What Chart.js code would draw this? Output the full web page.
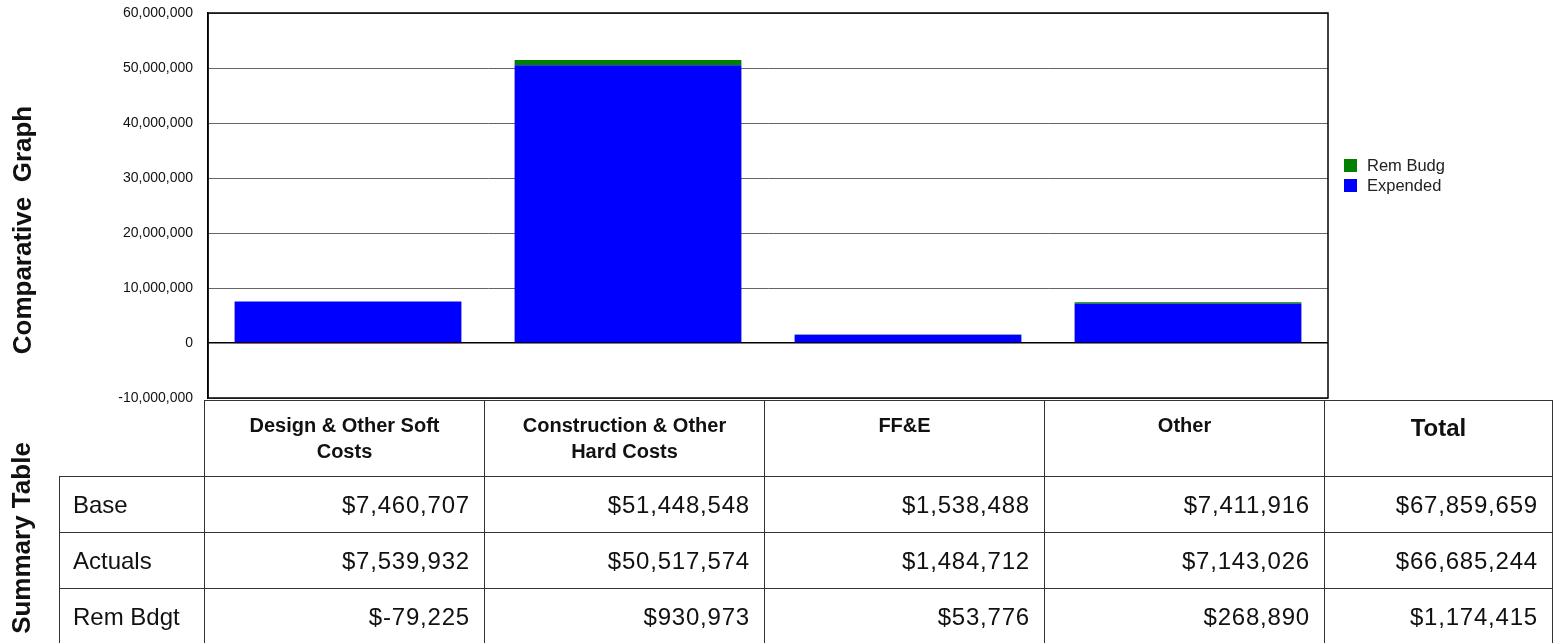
<!DOCTYPE html>
<html>
<head>
<meta charset="utf-8">
<script src="https://cdn.jsdelivr.net/npm/chart.js@4.4.1/dist/chart.umd.min.js"></script>
<style>
  html, body { margin: 0; padding: 0; background: #fff; }
  body { width: 1554px; height: 643px; position: relative; overflow: hidden;
         font-family: "Liberation Sans", Arial, Helvetica, sans-serif; color: #111; }
  #chartBox { position: absolute; left: 0; top: 0; width: 1554px; height: 420px; }
  .side { position: absolute; font-weight: bold; font-size: 26px; white-space: pre;
          transform: translate(-50%, -50%) rotate(-90deg); }
  #legend { position: absolute; left: 1344px; top: 157px; font-size: 16.5px; color: #222; }
  #legend div { height: 20px; line-height: 17px; white-space: nowrap; }
  #legend span.box { display: inline-block; width: 13px; height: 13px; vertical-align: -1px; margin-right: 10px; }
  #summary { position: absolute; left: 59px; top: 400px; border-collapse: collapse; }
  #summary td, #summary th { border: 1px solid #333; padding: 0; box-sizing: border-box; }
  #summary tr.head { height: 76px; }
  #summary tr.body { height: 56px; }
  #summary th { vertical-align: top; padding-top: 11px; font-size: 20px;
                line-height: 26px; font-weight: bold; text-align: center; }
  #summary th.empty { border: none; border-bottom: 1px solid #333; }
  #summary th.total { font-size: 24px; padding-top: 14px; }
  #summary td { font-size: 24px; vertical-align: middle; }
  #summary td.lbl { padding-left: 13px; text-align: left; }
  #summary td.num { padding-right: 14px; text-align: right; letter-spacing: 0.8px; }
</style>
</head>
<body>
<div id="chartBox"><canvas id="myChart"></canvas></div>
<div class="side" style="left:22px; top:230px;">Comparative  Graph</div>
<div class="side" style="left:21px; top:538px;">Summary Table</div>
<div id="legend"></div>
<table id="summary"></table>

<script>
// categories and values
const categories = ['Design & Other Soft Costs', 'Construction & Other Hard Costs', 'FF&E', 'Other'];
const headerLines = [['Design & Other Soft', 'Costs'], ['Construction & Other', 'Hard Costs'], ['FF&E'], ['Other']];
const base = [7460707, 51448548, 1538488, 7411916];
const actuals = [7539932, 50517574, 1484712, 7143026];
const remBudget = [-79225, 930973, 53776, 268890];
const totals = [67859659, 66685244, 1174415]; // Base, Actuals, Rem Bdgt
const rowLabels = ['Base', 'Actuals', 'Rem Bdgt'];
const yTicks = [-10000000, 0, 10000000, 20000000, 30000000, 40000000, 50000000, 60000000];

const BLUE = '#0000ff';
const GREEN = '#008000';

const money = v => '$' + v.toLocaleString('en-US');

// frame around the plot area
const frame = {
    id: 'frame',
    afterDraw(chart) {
        const a = chart.chartArea, c = chart.ctx;
        c.save();
        c.strokeStyle = '#000';
        c.lineWidth = 1.5;
        c.strokeRect(a.left, a.top, a.right - a.left, a.bottom - a.top);
        c.restore();
    }
};

const data = {
    labels: categories,
    datasets: [{
        label: 'Expended',
        data: actuals,
        backgroundColor: BLUE,
        borderWidth: 0
    }, {
        label: 'Rem Budg',
        data: remBudget,
        backgroundColor: ctx => (ctx.raw < 0 ? '#ff0000' : GREEN),
        borderWidth: 0
    }]
};

const options = {
    responsive: true,
    maintainAspectRatio: false,
    animation: false,
    layout: { padding: { left: 0, top: 13, right: 226, bottom: 22 } },
    datasets: { bar: { barPercentage: 0.81, categoryPercentage: 1 } },
    plugins: { legend: { display: false }, tooltip: { enabled: false } },
    scales: {
        x: { stacked: true, display: false },
        y: {
            stacked: true,
            min: -10000000,
            max: 60000000,
            afterBuildTicks: s => { s.ticks = yTicks.map(v => ({ value: v })); },
            afterFit: s => { s.width = 208; s.paddingTop = 0; s.paddingBottom = 0; },
            ticks: {
                padding: 15,
                color: '#111',
                font: { family: '"Liberation Sans", Arial, sans-serif', size: 14 },
                callback: v => v.toLocaleString('en-US')
            },
            grid: {
                drawTicks: false,
                color: ctx => (ctx.tick && ctx.tick.value === 0 ? '#000' : '#666'),
                lineWidth: ctx => (ctx.tick && ctx.tick.value === 0 ? 1.5 : 1)
            },
            border: { display: true, color: '#000', width: 1.5 }
        }
    }
};

const ctx = document.getElementById('myChart').getContext('2d');
const myChart = new Chart(ctx, { type: 'bar', data: data, options: options, plugins: [frame] });

// legend (reverse order like the stack)
const legendItems = [['Rem Budg', GREEN], ['Expended', BLUE]];
document.getElementById('legend').innerHTML = legendItems
    .map(([t, c]) => `<div><span class="box" style="background:${c}"></span>${t}</div>`).join('');

// summary table
const colW = [145, 280, 280, 280, 280, 228];
let html = '<colgroup>' + colW.map(w => `<col style="width:${w}px">`).join('') + '</colgroup>';
html += '<tr class="head"><th class="empty"></th>' + headerLines.map(l => `<th>${l.join('<br>')}</th>`).join('')
    + '<th class="total">Total</th></tr>';
const rows = [base, actuals, remBudget];
rows.forEach((r, i) => {
    html += `<tr class="body"><td class="lbl">${rowLabels[i]}</td>` + r.map(v => `<td class="num">${money(v)}</td>`).join('')
        + `<td class="num">${money(totals[i])}</td></tr>`;
});
const tbl = document.getElementById('summary');
tbl.style.width = colW.reduce((a, b) => a + b, 0) + 'px';
tbl.style.tableLayout = 'fixed';
tbl.innerHTML = html;
</script>
</body>
</html>
